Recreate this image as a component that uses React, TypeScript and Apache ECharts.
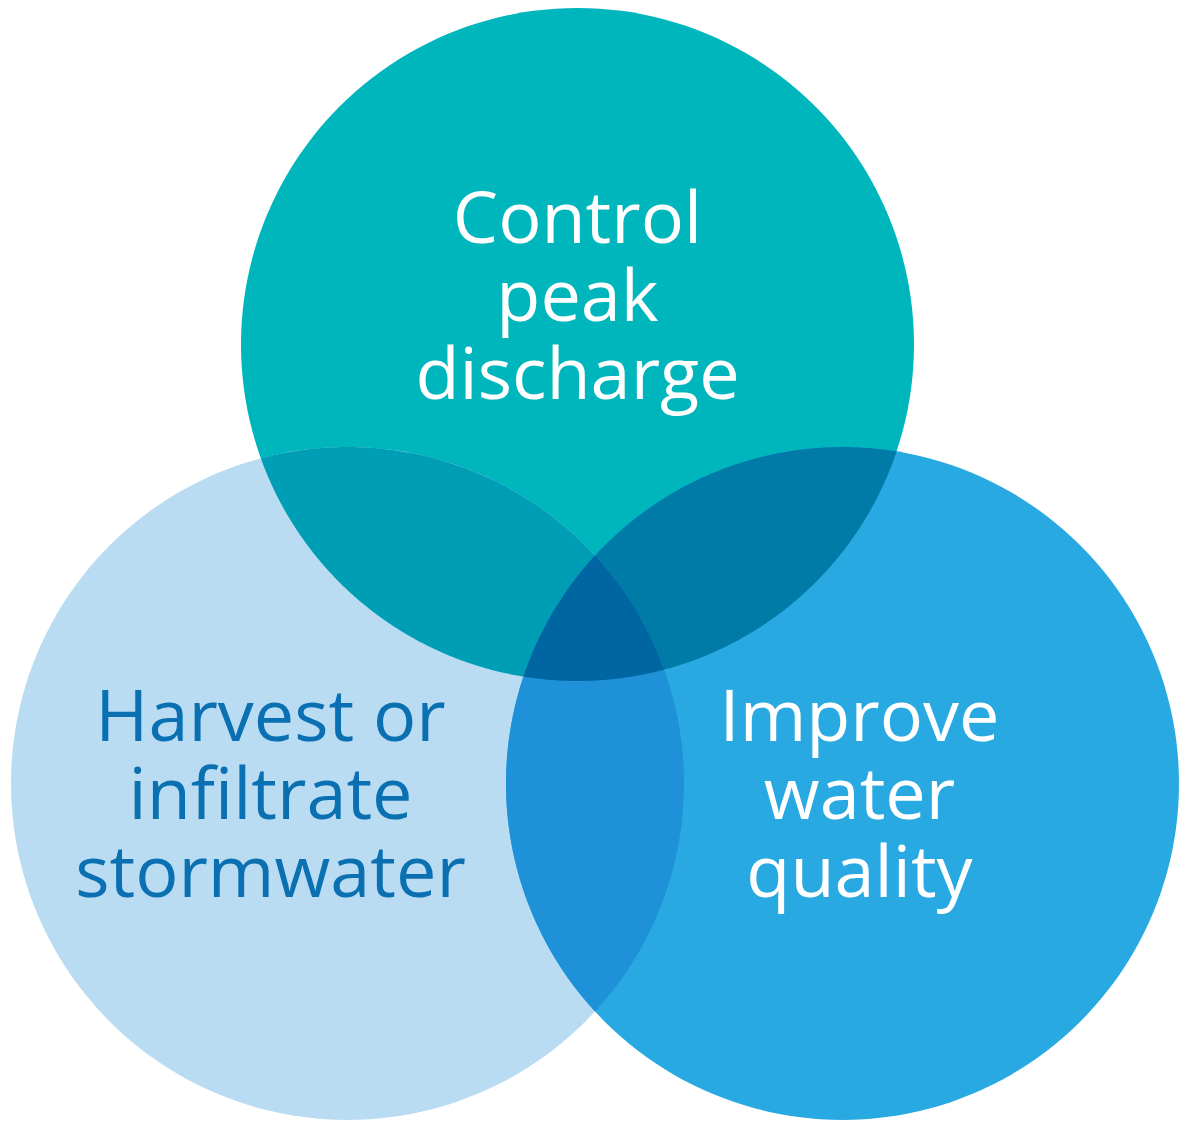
import React, { useEffect, useRef } from "react";
import * as echarts from "echarts";

// ---- data ----
const setNames = ["Control peak discharge", "Harvest or infiltrate stormwater", "Improve water quality"];
const setLabelLines = [
  ["Control", "peak", "discharge"],
  ["Harvest or", "infiltrate", "stormwater"],
  ["Improve", "water", "quality"],
];
const centerX = [577.5, 347.5, 842.5];
const centerY = [344.5, 783.5, 783.5];
const radius = [336.5, 336.5, 336.5];
const regionMembers = [[0, 1], [0, 2], [1, 2], [0, 1, 2]];

// ---- styles ----
const setColors = ["#00B6BD", "#BADCF3", "#29A9E1"];
const regionColors = ["#009EB5", "#007BA7", "#1E91D9", "#0066A1"];
const labelColors = ["#FFFFFF", "#0A70B2", "#FFFFFF"];
const labelOffset = [[0, -52], [-77, 7], [17, 7]];

type Pt = [number, number];
type Circ = { c: Pt; r: number };

function intersect(a: Circ, b: Circ): Pt[] {
  const dx = b.c[0] - a.c[0];
  const dy = b.c[1] - a.c[1];
  const d = Math.hypot(dx, dy);
  if (d > a.r + b.r || d < Math.abs(a.r - b.r) || d === 0) return [];
  const l = (a.r * a.r - b.r * b.r + d * d) / (2 * d);
  const h = Math.sqrt(Math.max(0, a.r * a.r - l * l));
  const mx = a.c[0] + (dx * l) / d;
  const my = a.c[1] + (dy * l) / d;
  return [
    [mx + (h * dy) / d, my - (h * dx) / d],
    [mx - (h * dy) / d, my + (h * dx) / d],
  ];
}

function inside(p: Pt, c: Circ, tol: number) {
  return Math.hypot(p[0] - c.c[0], p[1] - c.c[1]) <= c.r + tol;
}

function regionPolygon(circles: Circ[]): Pt[] {
  const pts: Pt[] = [];
  const N = 2000;
  circles.forEach((ci, i) => {
    for (let k = 0; k < N; k++) {
      const ang = (k / N) * Math.PI * 2;
      const p: Pt = [ci.c[0] + ci.r * Math.cos(ang), ci.c[1] + ci.r * Math.sin(ang)];
      if (circles.every((cj, j) => j === i || inside(p, cj, 0))) pts.push(p);
    }
  });
  for (let i = 0; i < circles.length; i++) {
    for (let j = i + 1; j < circles.length; j++) {
      intersect(circles[i], circles[j]).forEach((p) => {
        if (circles.every((ck, k) => k === i || k === j || inside(p, ck, 0.01))) pts.push(p);
      });
    }
  }
  if (!pts.length) return pts;
  const cx = pts.reduce((s, p) => s + p[0], 0) / pts.length;
  const cy = pts.reduce((s, p) => s + p[1], 0) / pts.length;
  pts.sort((p, q) => Math.atan2(p[1] - cy, p[0] - cx) - Math.atan2(q[1] - cy, q[0] - cx));
  return pts;
}

export default function App() {
  const ref = useRef<HTMLDivElement>(null);
  useEffect(() => {
    document.body.style.margin = "0";
    document.body.style.overflow = "hidden";
    const chart = echarts.init(ref.current!, null, { renderer: "svg" });

    const toCirc = (api: any, i: number): Circ => {
      const c = api.coord([centerX[i], centerY[i]]) as Pt;
      const r = api.size([radius[i], 0])[0];
      return { c, r };
    };

    chart.setOption({
      animation: false,
      backgroundColor: "#FFFFFF",
      grid: { left: 0, right: 0, top: 0, bottom: 0 },
      xAxis: { type: "value", min: 0, max: 1181, show: false },
      yAxis: { type: "value", min: 0, max: 1121, inverse: true, show: false },
      series: [
        {
          type: "custom",
          name: "sets",
          z: 1,
          silent: true,
          data: setNames.map((n, i) => ({ name: n, value: [centerX[i], centerY[i], radius[i], i] })),
          renderItem: (params: any, api: any) => {
            const i = api.value(3);
            const c = api.coord([api.value(0), api.value(1)]);
            const r = api.size([api.value(2), 0])[0];
            return {
              type: "circle",
              shape: { cx: c[0], cy: c[1], r },
              style: { fill: setColors[i] },
            };
          },
        },
        {
          type: "custom",
          name: "overlaps",
          z: 2,
          silent: true,
          data: regionMembers.map((m, i) => ({ name: m.map((k) => setNames[k]).join(" ∩ "), value: [i] })),
          renderItem: (params: any, api: any) => {
            const idx = api.value(0);
            const circles = regionMembers[idx].map((k) => toCirc(api, k));
            const pts = regionPolygon(circles);
            return {
              type: "polygon",
              shape: { points: pts },
              style: { fill: regionColors[idx] },
            };
          },
        },
        {
          type: "custom",
          name: "labels",
          z: 3,
          silent: true,
          data: setNames.map((n, i) => ({ name: n, value: [centerX[i], centerY[i], i] })),
          renderItem: (params: any, api: any) => {
            const i = api.value(2);
            const c = api.coord([api.value(0), api.value(1)]);
            return {
              type: "text",
              x: c[0] + labelOffset[i][0],
              y: c[1] + labelOffset[i][1],
              style: {
                text: setLabelLines[i].join("\n"),
                fill: labelColors[i],
                fontFamily: "Open Sans",
                fontSize: 72,
                fontWeight: "normal",
                lineHeight: 78,
                align: "center",
                verticalAlign: "middle",
                textAlign: "center",
                textVerticalAlign: "middle",
              },
            };
          },
        },
      ],
    });
    return () => chart.dispose();
  }, []);
  return <div ref={ref} style={{ width: 1181, height: 1121 }} />;
}
